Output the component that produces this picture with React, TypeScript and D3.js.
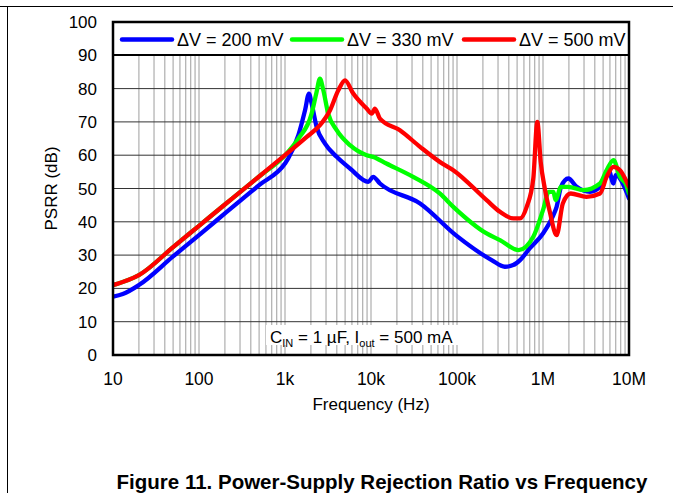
import React from "react";
import * as d3 from "d3";

const W = 673;
const H = 493;

const blueData: [number, number][] = [
  [10, 17.5], [13, 18.3], [20, 21], [50, 29.6], [100, 36], [200, 42.5], [300, 46.3],
  [500, 51], [1000, 57.5], [1090, 59], [1430, 66], [1710, 73.5], [1900, 78.5], [2040, 75.5],
  [2330, 68.5], [2920, 63.5], [3990, 59.5], [5700, 56], [9300, 52], [10600, 53.5], [12700, 51.5],
  [37200, 45.5], [100000, 35.7], [253000, 28.5], [360000, 26.5], [450000, 27], [541000, 28.5],
  [700000, 32], [1000000, 36.5], [1320000, 42], [1440000, 44.5], [1620000, 50.5], [1970000, 53],
  [2460000, 50.5], [3520000, 49], [4600000, 50.5], [5800000, 55.5], [6600000, 51.5], [7000000, 54],
  [9500000, 48.5], [10000000, 47],
];

const greenData: [number, number][] = [
  [10, 21], [15, 22.5], [20, 24], [50, 32.4], [100, 38.8], [200, 45.2], [300, 48.9], [500, 53.6],
  [1000, 60], [1430, 65], [2040, 72.5], [2330, 79], [2550, 83], [2790, 79.5], [3180, 72.5],
  [3990, 67.5], [5700, 63], [8900, 60], [10600, 59.5], [15100, 57.5], [30900, 53.5], [63000, 48.5],
  [90600, 44.5], [221000, 36.5], [316000, 34.5], [520000, 31.5], [771000, 35.5], [1000000, 43.5],
  [1170000, 49], [1320000, 49], [1400000, 46.5], [1620000, 50.5], [1970000, 50.5],
  [2950000, 49.5], [4600000, 51.5], [5500000, 55.5], [6600000, 58.5], [7850000, 53.5],
  [9300000, 51], [10000000, 48.5],
];

const redData: [number, number][] = [
  [10, 21], [15, 22.5], [20, 24], [50, 32.4], [100, 38.8], [200, 45.2], [300, 48.9], [500, 53.6],
  [1000, 60], [1790, 65.5], [2550, 69], [3340, 73.5], [4170, 79.5], [4990, 82.5], [6220, 78.5],
  [8900, 74], [10200, 72.5], [11100, 74], [12700, 71], [21700, 67.5], [37200, 62.5], [63000, 58],
  [90600, 55.5], [221000, 46.5], [316000, 43], [453000, 41], [541000, 41], [646000, 44.5],
  [771000, 53], [859000, 70], [940000, 58], [1050000, 50], [1200000, 43], [1440000, 36],
  [1700000, 45.5], [2100000, 48.5], [3200000, 47.5], [4600000, 48.5], [5500000, 53.5],
  [6600000, 56.5], [7850000, 55.5], [10000000, 50.5],
];

const yTicks = [0, 10, 20, 30, 40, 50, 60, 70, 80, 90, 100];
const xTicks = [10, 100, 1000, 10000, 100000, 1000000, 10000000];
const xTickLabels = ["10", "100", "1k", "10k", "100k", "1M", "10M"];
const legendLabels = ["\u0394V = 200 mV", "\u0394V = 330 mV", "\u0394V = 500 mV"];
const seriesColors = ["#0000ff", "#00ff00", "#ff0000"];

const PL = 113, PR = 629, PT = 22, PB = 355;
const FONT = "'Liberation Sans', Arial, sans-serif";

export default function App() {
  const x = d3.scaleLog().domain([10, 1e7]).range([PL, PR]);
  const y = d3.scaleLinear().domain([0, 100]).range([PB, PT]);
  const line = d3
    .line<[number, number]>()
    .x((d) => x(d[0]))
    .y((d) => y(d[1]))
    .curve(d3.curveMonotoneX);

  const minor: number[] = [];
  for (let e = 1; e < 7; e++) {
    for (let m = 1; m <= 9; m++) minor.push(m * Math.pow(10, e));
  }
  minor.push(1e7);

  const series = [blueData, greenData, redData];
  const legendX = [122, 292, 464];

  return (
    <svg
      width={W}
      height={H}
      style={{ position: "absolute", left: 0, top: 0, background: "#fff" }}
      fontFamily={FONT}
    >
      <defs>
        <clipPath id="plotclip">
          <rect x={PL} y={PT} width={PR - PL} height={PB - PT} />
        </clipPath>
      </defs>
      <rect x={0} y={0} width={W} height={H} fill="#fff" />
      {/* frame lines */}
      <line x1={0} y1={6.5} x2={W} y2={6.5} stroke="#000" strokeWidth={1} />
      <line x1={7.5} y1={6} x2={7.5} y2={H} stroke="#000" strokeWidth={1} />

      {/* vertical grid */}
      {minor.map((f, i) => (
        <line key={"v" + i} x1={x(f)} x2={x(f)} y1={PT} y2={PB} stroke="#b4b4b4" strokeWidth={1.3} />
      ))}
      {/* horizontal grid */}
      {yTicks.slice(1, -1).map((t) => (
        <line key={"h" + t} x1={PL} x2={PR} y1={y(t)} y2={y(t)} stroke="#333" strokeWidth={1} />
      ))}

      {/* annotation box */}
      <rect x={266} y={325} width={205} height={20} fill="#fff" />
      <text x={270} y={343} fontSize={17} fill="#000">
        C<tspan fontSize={11} dy={4}>IN</tspan>
        <tspan dy={-4}> = 1 µF, I</tspan>
        <tspan fontSize={11} dy={4}>out</tspan>
        <tspan dy={-4}> = 500 mA</tspan>
      </text>

      {/* legend box */}
      <rect x={PL} y={PT} width={PR - PL} height={33} fill="#fff" stroke="#000" strokeWidth={2} />
      <g clipPath="url(#plotclip)">
        {legendLabels.map((lab, i) => (
          <g key={lab}>
            <line x1={legendX[i]} x2={legendX[i] + 50} y1={39.5} y2={39.5} stroke={seriesColors[i]} strokeWidth={4.5} strokeLinecap="round" />
            <text x={legendX[i] + 55} y={46} fontSize={18} fill="#000">{lab}</text>
          </g>
        ))}
      </g>

      {/* curves */}
      <g clipPath="url(#plotclip)">
        {series.map((s, i) => (
          <path key={i} d={line(s) || ""} fill="none" stroke={seriesColors[i]} strokeWidth={4.3} strokeLinejoin="round" strokeLinecap="round" />
        ))}
      </g>

      {/* plot border */}
      <rect x={PL} y={PT} width={PR - PL} height={PB - PT} fill="none" stroke="#000" strokeWidth={2.5} />

      {/* y tick labels */}
      {yTicks.map((t) => (
        <text key={"yt" + t} x={97} y={y(t) + 6} fontSize={17} textAnchor="end" fill="#000">{t}</text>
      ))}
      {/* x tick labels */}
      {xTicks.map((t, i) => (
        <text key={"xt" + t} x={x(t)} y={385} fontSize={17.5} textAnchor="middle" fill="#000">{xTickLabels[i]}</text>
      ))}
      <text x={(PL + PR) / 2} y={410} fontSize={17} textAnchor="middle" fill="#000">Frequency (Hz)</text>
      <text transform={`translate(57,${(PT + PB) / 2}) rotate(-90)`} fontSize={17} textAnchor="middle" fill="#000">PSRR (dB)</text>

      <text x={382} y={489} fontSize={20.5} fontWeight="bold" textAnchor="middle" fill="#000">
        Figure 11. Power-Supply Rejection Ratio vs Frequency
      </text>
    </svg>
  );
}
